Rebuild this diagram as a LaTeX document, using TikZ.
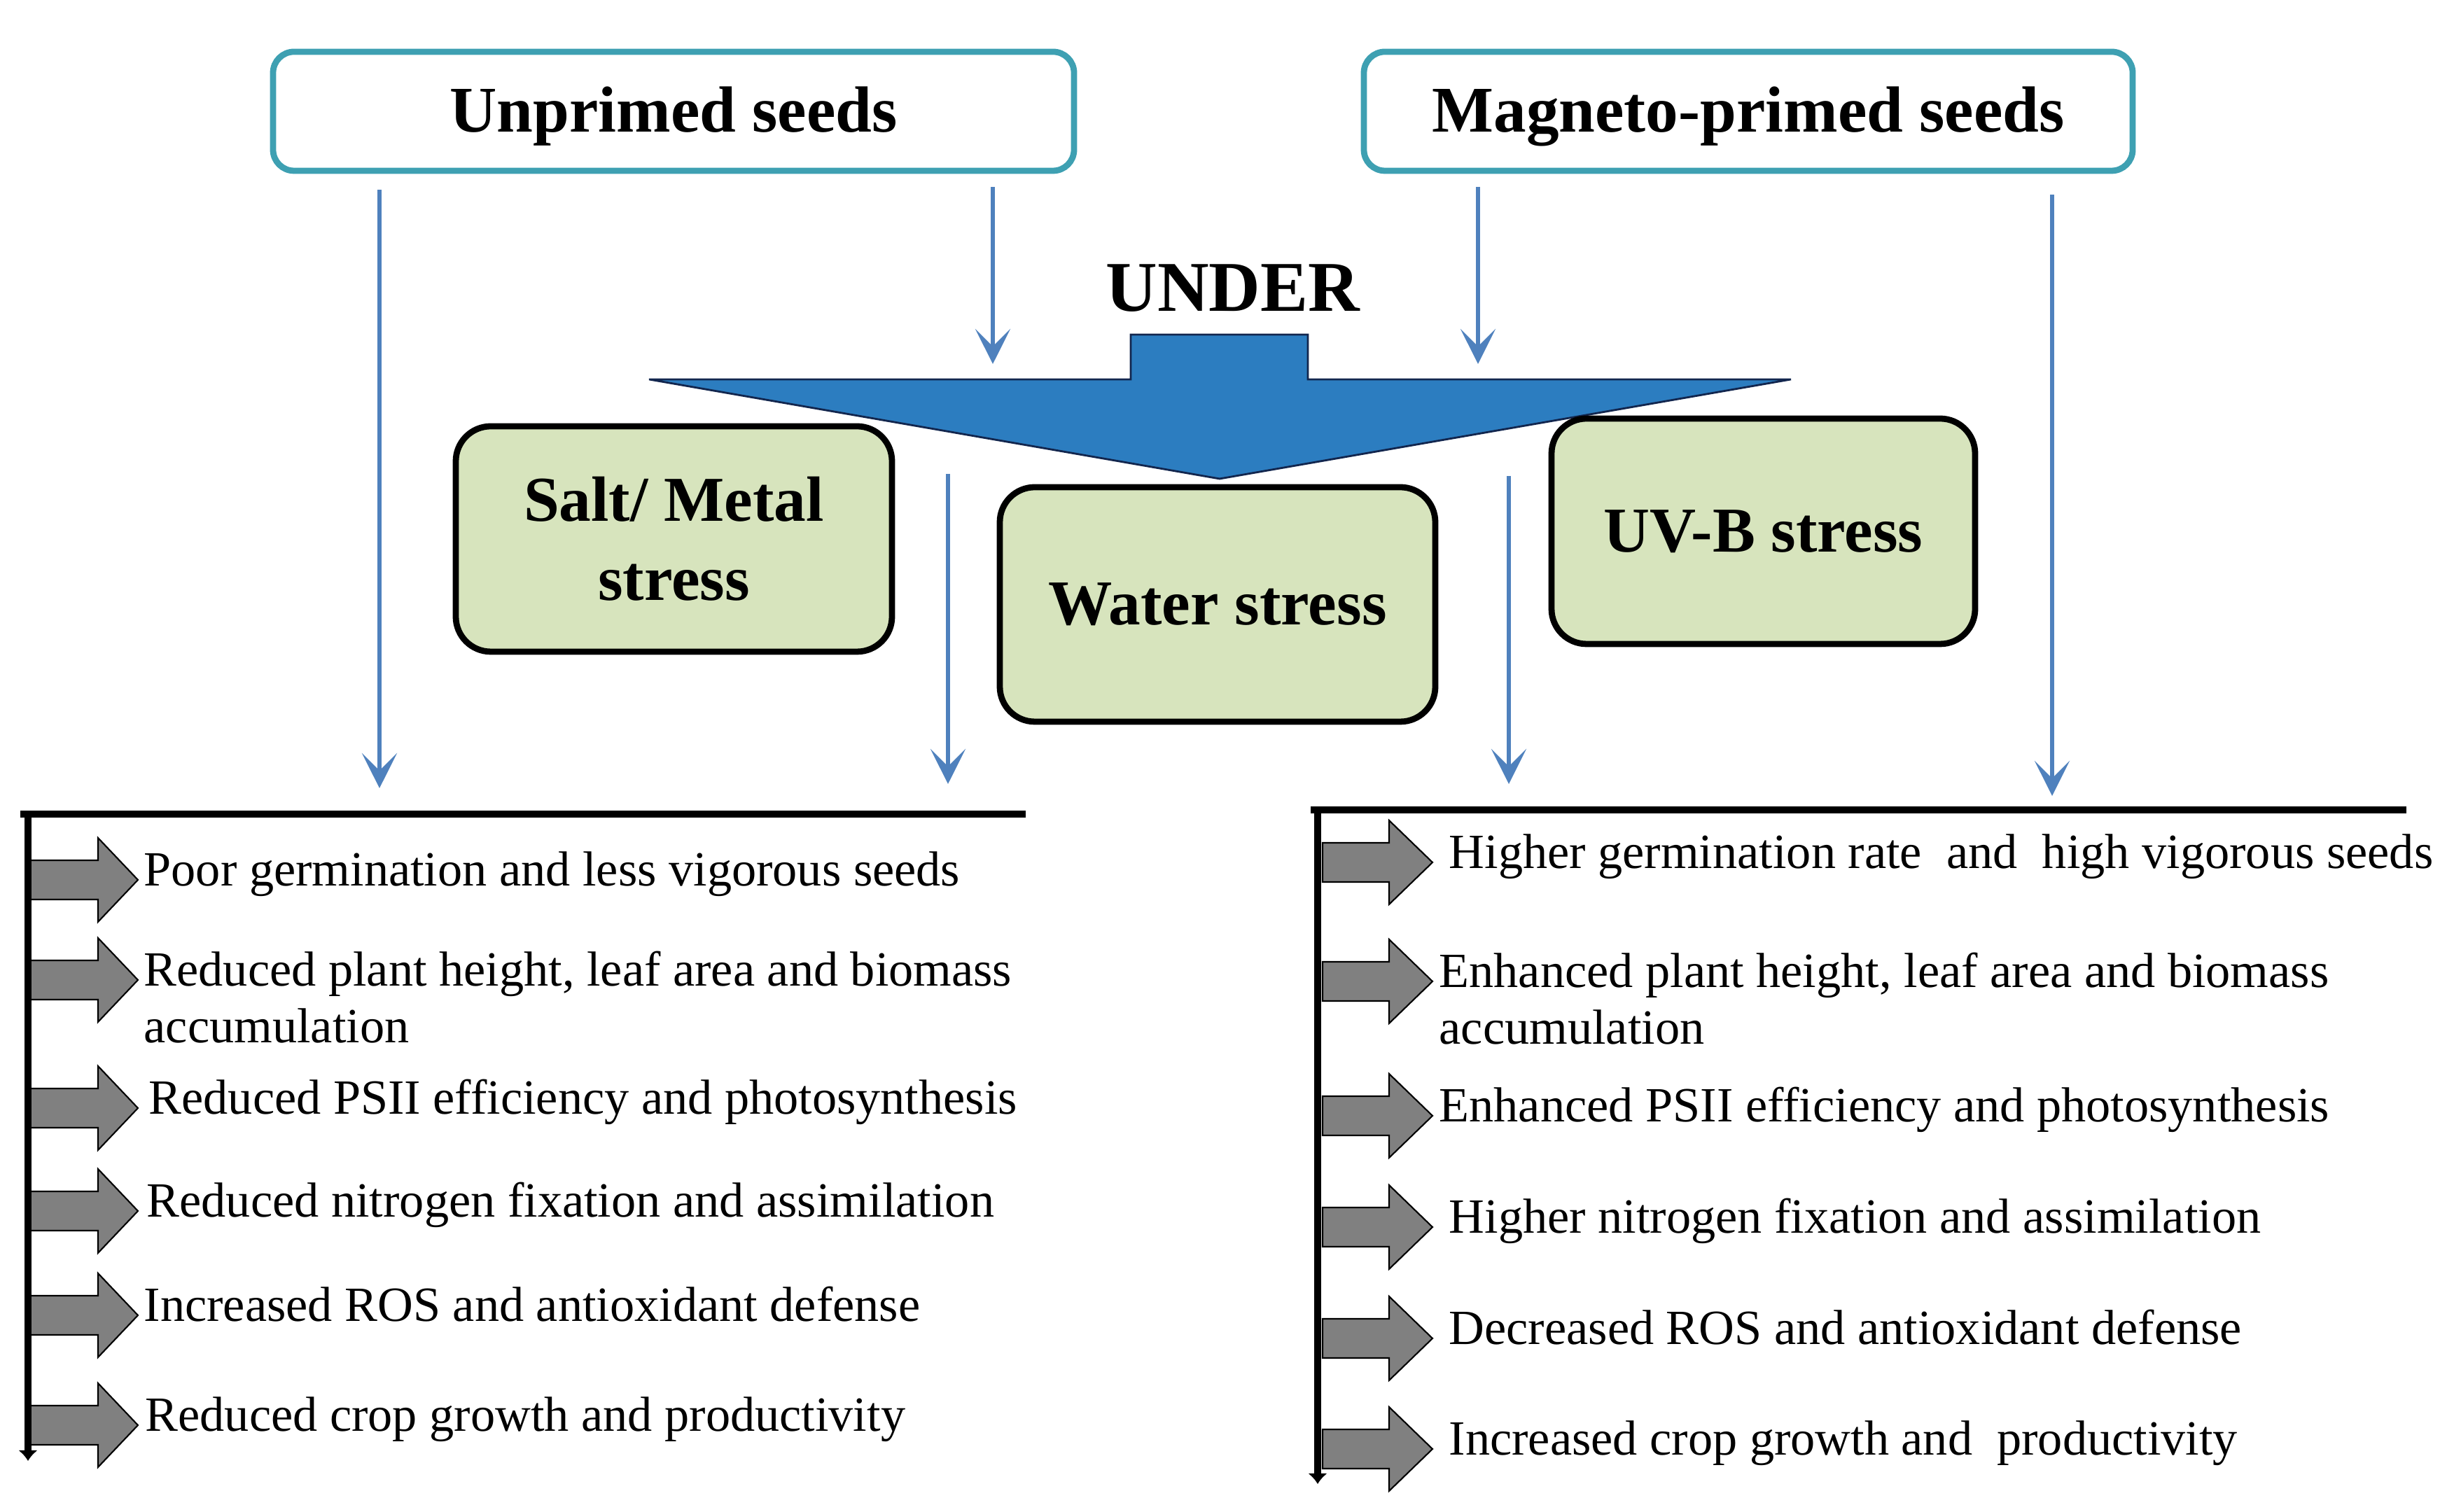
\documentclass[tikz,border=0pt]{standalone}
\usepackage{fontspec}
\setmainfont{Liberation Serif}
\usetikzlibrary{arrows.meta, math}
\definecolor{seedteal}{RGB}{62,160,178}
\definecolor{stressgreen}{RGB}{215,228,189}
\definecolor{underblue}{RGB}{44,125,192}
\definecolor{undernavy}{RGB}{18,38,78}
\definecolor{linkblue}{RGB}{79,129,189}
\definecolor{blockgray}{RGB}{128,128,128}

\tikzset{
  seedbox/.style={draw=seedteal, line width=2.5pt, rounded corners=0.3cm, fill=white,
    minimum height=1.70cm, text height=17pt, text depth=0pt,
    font=\fontsize{26.5}{30}\selectfont\bfseries},
  stressbox/.style={draw=black, line width=2.5pt, rounded corners=0.5cm, fill=stressgreen,
    align=center, font=\fontsize{26}{32}\selectfont\bfseries},
  bluelink/.style={draw=linkblue, line width=1.8pt, -{Stealth[length=5mm,width=5mm,inset=2.5mm]}},
  effect/.style={anchor=mid west, inner sep=0pt, align=left, font=\fontsize{20}{23}\selectfont},
  blockarrow/.style={draw=black, line width=0.6pt, fill=blockgray},
  bracket/.style={line width=3pt},
}

\begin{document}
\begin{tikzpicture}
\tikzmath{
\sh=0.28;
\hh=0.60;
}
\useasboundingbox (0,0) rectangle (34.95,21.6);

% seeds
\node[seedbox, minimum width=11.44cm] (unp) at (9.62,20.01) {Unprimed seeds};
\node[seedbox, minimum width=10.98cm] (mag) at (24.97,20.01) {Magneto-primed seeds};

\node[font=\fontsize{29}{32}\selectfont\bfseries] (under) at (17.61,17.48) {UNDER};

\filldraw[fill=underblue, draw=undernavy, line width=0.8pt] (16.15,16.82) -- (18.68,16.82) -- (18.68,16.18)
  -- (25.58,16.18) -- (17.42,14.76) -- (9.27,16.18) -- (16.15,16.18) -- cycle;

% stresses
\node[stressbox, minimum width=6.23cm, minimum height=3.22cm] (salt) at (9.625,13.90) {Salt/ Metal\\stress};
\node[stressbox, minimum width=6.22cm, minimum height=3.35cm] (water) at (17.39,12.965) {Water stress};
\node[stressbox, minimum width=6.05cm, minimum height=3.22cm] (uvb) at (25.185,14.01) {UV-B stress};

% links
\coordinate (tA) at (5.42,10.34);
\coordinate (tB) at (14.18,16.40);
\coordinate (tC) at (21.11,16.40);
\coordinate (tD) at (29.31,10.23);
\coordinate (sE) at (13.54,14.83);
\coordinate (tE) at (13.54,10.40);
\coordinate (sF) at (21.55,14.80);
\coordinate (tF) at (21.55,10.40);
\draw[bluelink, shorten <=0.23cm] (unp.south -| tA) -- (tA);
\draw[bluelink, shorten <=0.19cm] (unp.south -| tB) -- (tB);
\draw[bluelink, shorten <=0.19cm] (mag.south -| tC) -- (tC);
\draw[bluelink, shorten <=0.30cm] (mag.south -| tD) -- (tD);
\draw[bluelink] (sE) -- (tE);
\draw[bluelink] (sF) -- (tF);

% effects, unprimed
\foreach \y in {9.03,7.60,5.77,4.30,2.81,1.24}
  \filldraw[blockarrow] (0.42,\y-\sh) -- (1.40,\y-\sh) -- (1.40,\y-\hh) -- (1.97,\y)
    -- (1.40,\y+\hh) -- (1.40,\y+\sh) -- (0.42,\y+\sh) -- cycle;
\foreach \y/\x/\txt [count=\i] in {
  9.03/2.05/{Poor germination and less vigorous seeds},
  6.79/2.05/{Reduced plant height, leaf area and biomass\\accumulation},
  5.77/2.12/{Reduced PSII efficiency and photosynthesis},
  4.30/2.09/{Reduced nitrogen fixation and assimilation},
  2.81/2.05/{Increased ROS and antioxidant defense},
  1.24/2.07/{Reduced crop growth and productivity}}
  \node[effect] (ueff\i) at (\x,\y) {\txt};

\coordinate (lb0) at (0.29,9.97);
\coordinate (lb1) at (14.65,9.97);
\coordinate (ltop) at (0.40,9.97);
\coordinate (lbot) at (0.40,0.73);
\draw[bracket] (lb0) -- (lb1);
\draw[bracket, -{Latex[length=1.5mm,width=2.8mm]}] (ltop) -- (lbot);

% effects, magneto-primed
\foreach \y in {9.28,7.58,5.66,4.07,2.48,0.90}
  \filldraw[blockarrow] (18.89,\y-\sh) -- (19.84,\y-\sh) -- (19.84,\y-\hh) -- (20.46,\y)
    -- (19.84,\y+\hh) -- (19.84,\y+\sh) -- (18.89,\y+\sh) -- cycle;
\foreach \y/\x/\txt [count=\i] in {
  9.28/20.69/{Higher germination rate\ \ and\ \ high vigorous seeds},
  6.77/20.55/{Enhanced plant height, leaf area and biomass\\accumulation},
  5.66/20.55/{Enhanced PSII efficiency and photosynthesis},
  4.07/20.69/{Higher nitrogen fixation and assimilation},
  2.48/20.69/{Decreased ROS and antioxidant defense},
  0.90/20.69/{Increased crop growth and\ \ productivity}}
  \node[effect] (meff\i) at (\x,\y) {\txt};

\coordinate (rb0) at (18.72,10.03);
\coordinate (rb1) at (34.37,10.03);
\coordinate (rtop) at (18.82,10.03);
\coordinate (rbot) at (18.82,0.40);
\draw[bracket] (rb0) -- (rb1);
\draw[bracket, -{Latex[length=1.5mm,width=2.8mm]}] (rtop) -- (rbot);

\end{tikzpicture}
\end{document}
